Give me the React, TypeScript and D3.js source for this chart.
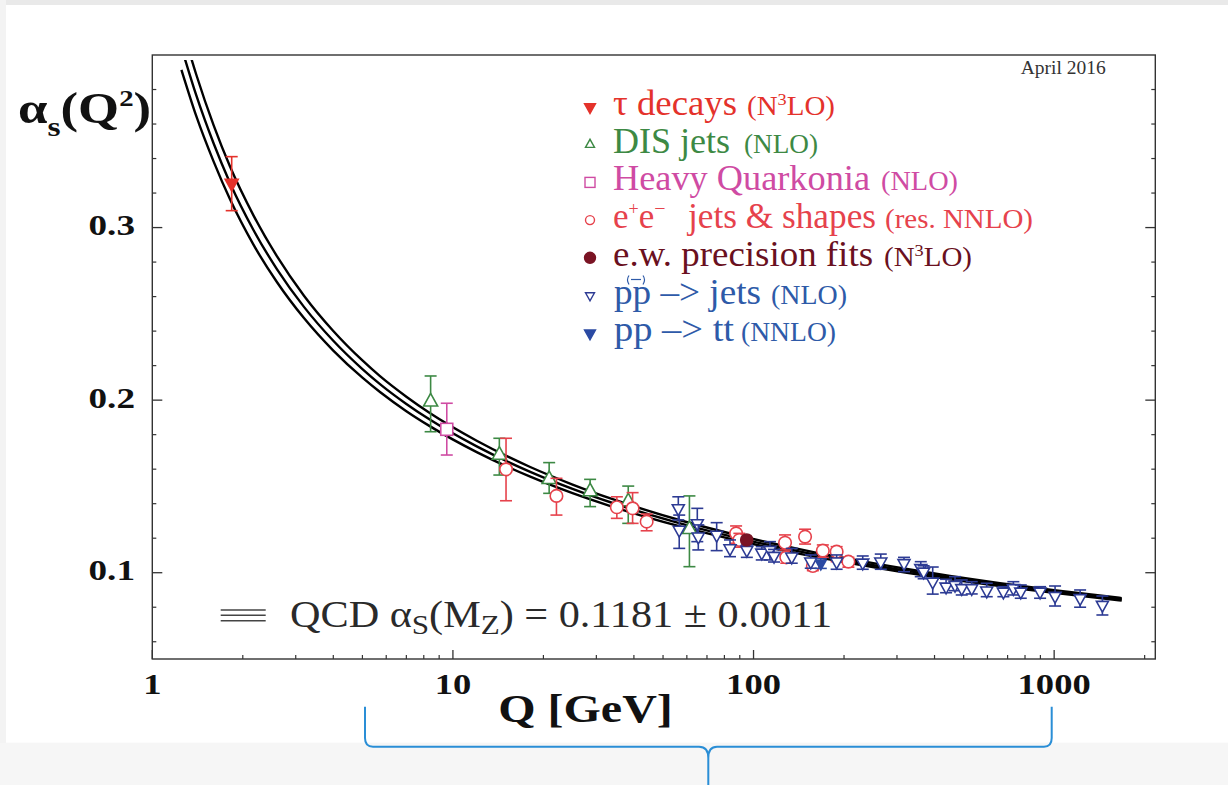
import React from 'react';
import * as d3 from 'd3';

// ---- axes ----
const xMajorTicks = [1, 10, 100, 1000];
const xTickLabels = ['1', '10', '100', '1000'];
const yMajorTicks = [0.1, 0.2, 0.3];
const yTickLabels = ['0.1', '0.2', '0.3'];
const yMinorTicks = [0.06, 0.08, 0.12, 0.14, 0.16, 0.18, 0.22, 0.24, 0.26, 0.28, 0.32, 0.34, 0.36, 0.38];

// ---- QCD running coupling band: Q [GeV], central alpha_s, half-width ----
const bandQ = [1.25, 1.4, 1.6, 1.815, 2.17, 2.6, 3.2, 4, 5, 5.72, 7, 8.4, 12, 18, 25, 34, 57, 95, 150, 209, 320, 450, 660, 1000, 1678];
const bandAlpha = [0.4044, 0.3767, 0.3487, 0.3257, 0.2986, 0.2758, 0.2539, 0.2344, 0.218, 0.2093, 0.1978, 0.1886, 0.1732, 0.1586, 0.1486, 0.1404, 0.1286, 0.1189, 0.1115, 0.1068, 0.1012, 0.0972, 0.0931, 0.0891, 0.0846];
const bandHalfWidth = [0.013, 0.012, 0.0105, 0.0095, 0.0085, 0.0075, 0.0065, 0.0057, 0.005, 0.0046, 0.0042, 0.0038, 0.0033, 0.0028, 0.0025, 0.0022, 0.0018, 0.0015, 0.0013, 0.0012, 0.0011, 0.001, 0.0009, 0.0008, 0.0007];

// ---- measurements: [Q, alpha_s, upper, lower] ----
const tauDecays = [[1.837, 0.3257, 0.3411, 0.3098]];
const disJets = [
  [8.43, 0.199, 0.214, 0.1817],
  [14.27, 0.1682, 0.1779, 0.1566],
  [20.9, 0.1541, 0.1638, 0.146],
  [28.6, 0.147, 0.1541, 0.1383],
  [38.3, 0.1412, 0.1502, 0.1286],
  [61.2, 0.1252, 0.1445, 0.1035],
];
const heavyQuarkonia = [[9.54, 0.1831, 0.1982, 0.1682]];
const eeJetsShapes = [
  [15.02, 0.1599, 0.1779, 0.1417],
  [22.1, 0.1445, 0.1547, 0.1334],
  [35.1, 0.1379, 0.144, 0.1315],
  [39.6, 0.1373, 0.1464, 0.1286],
  [44.1, 0.1296, 0.134, 0.1243],
  [87.5, 0.1228, 0.1271, 0.1171],
  [89.7, 0.119, 0.1228, 0.1148],
  [127.3, 0.1174, 0.1219, 0.1132],
  [128.5, 0.1089, 0.1112, 0.1055],
  [148.4, 0.1209, 0.1252, 0.1166],
  [157.5, 0.1039, 0.1066, 0.1012],
  [170, 0.1128, 0.1161, 0.1089],
  [189, 0.1122, 0.1151, 0.1064],
  [206.8, 0.1064, 0.1089, 0.1032],
];
const ewFits = [[94.9, 0.119, 0.1196, 0.1184]];
const ppJets = [
  [56.2, 0.1373, 0.144, 0.1306],
  [56.6, 0.1248, 0.1334, 0.1141],
  [65.0, 0.1286, 0.1373, 0.118],
  [65.5, 0.1209, 0.1277, 0.1132],
  [75.4, 0.1219, 0.129, 0.1128],
  [83.5, 0.1141, 0.119, 0.1093],
  [95, 0.1132, 0.1161, 0.1089],
  [106.5, 0.1116, 0.1151, 0.1074],
  [113.4, 0.1132, 0.118, 0.1074],
  [117, 0.1097, 0.1135, 0.1062],
  [134, 0.1093, 0.1141, 0.1055],
  [155, 0.1064, 0.1103, 0.1026],
  [189, 0.1064, 0.1103, 0.102],
  [230.8, 0.1058, 0.1097, 0.102],
  [265, 0.1064, 0.1108, 0.102],
  [316.6, 0.1055, 0.1089, 0.1006],
  [360, 0.1026, 0.1064, 0.0977],
  [368, 0.1006, 0.104, 0.0965],
  [394.5, 0.0948, 0.1033, 0.0876],
  [437, 0.0919, 0.0962, 0.0884],
  [468, 0.0929, 0.0977, 0.0896],
  [492.7, 0.091, 0.0958, 0.0871],
  [531.9, 0.091, 0.0948, 0.0877],
  [596.7, 0.0896, 0.0939, 0.0861],
  [677.7, 0.089, 0.0919, 0.0861],
  [731.6, 0.091, 0.0948, 0.0871],
  [774.3, 0.089, 0.0929, 0.0852],
  [897.8, 0.089, 0.0919, 0.0852],
  [1007, 0.0865, 0.0923, 0.0807],
  [1220, 0.0852, 0.09, 0.08],
  [1447, 0.0813, 0.0865, 0.0755],
];
const ppTop = [[167.4, 0.1051, 0.108, 0.1025]];

// ---- legend texts ----
const legendMain = ['τ decays', 'DIS jets', 'Heavy Quarkonia', 'jets & shapes', 'e.w. precision fits', 'pp –> jets', 'pp –> tt'];
const legendOrder = ['(N³LO)', '(NLO)', '(NLO)', '(res. NNLO)', '(N³LO)', '(NLO)', '(NNLO)'];

const SERIF = "'Liberation Serif', 'Times New Roman', 'DejaVu Serif', serif";

const C = {
  tau: '#e4322b',
  dis: '#3d8944',
  hq: '#cf4ba3',
  ee: '#e6424c',
  ew: '#7a1424',
  ewText: '#6a1020',
  pp: '#2d3b94',
  ppText: '#2e5aa8',
  ppTop: '#2b4aa3',
  frame: '#333',
};

type Shape = 'triDown' | 'triUp' | 'square' | 'circle';

function Marker({ shape, x, y, s, color, filled, sw = 1.6 }: { shape: Shape; x: number; y: number; s: number; color: string; filled: boolean; sw?: number }) {
  const fill = filled ? color : '#fff';
  if (shape === 'circle') return <circle cx={x} cy={y} r={s / 2} fill={fill} stroke={color} strokeWidth={sw} />;
  if (shape === 'square') return <rect x={x - s / 2} y={y - s / 2} width={s} height={s} fill={fill} stroke={color} strokeWidth={sw} />;
  const h = s * 0.9;
  const pts = shape === 'triDown'
    ? [[x - s / 2, y - h / 3], [x + s / 2, y - h / 3], [x, y + (2 * h) / 3]]
    : [[x - s / 2, y + h / 3], [x + s / 2, y + h / 3], [x, y - (2 * h) / 3]];
  return <polygon points={pts.map((p) => p.join(',')).join(' ')} fill={fill} stroke={color} strokeWidth={sw} strokeLinejoin="miter" />;
}

// Order label such as "(N³LO)": the superscript digit is set smaller and raised.
function OrderLabel({ x, y, text, color, len }: { x: number; y: number; text: string; color: string; len: number }) {
  const m = text.match(/^(.*?)([³])(.*)$/);
  const st = { fontFamily: SERIF };
  if (!m) {
    return <text x={x} y={y} fontSize={27} fill={color} style={st} textLength={len} lengthAdjust="spacingAndGlyphs">{text}</text>;
  }
  return (
    <text x={x} y={y} fontSize={27} fill={color} style={st} textLength={len} lengthAdjust="spacingAndGlyphs">
      <tspan>{m[1]}</tspan>
      <tspan fontSize={17} dy={-10}>3</tspan>
      <tspan dy={10}>{m[3]}</tspan>
    </text>
  );
}

export default function App() {
  const W = 1228;
  const H = 785;
  const left = 152.3;
  const right = 1155.3;
  const top = 55;
  const bottom = 659;

  const x = d3.scaleLog().domain([1, 2170]).range([left, right]);
  const y = d3.scaleLinear().domain([0.05, 0.4]).range([bottom, top]);

  const xMinor: number[] = [];
  for (const d of xMajorTicks) for (let k = 2; k <= 9; k++) if (d * k <= 2170) xMinor.push(d * k);

  const idx = d3.range(bandQ.length);
  const bandLine = (k: number) =>
    d3.line<number>()
      .x((i) => x(bandQ[i]))
      .y((i) => y(bandAlpha[i] + k * bandHalfWidth[i]))
      .curve(d3.curveMonotoneX)(idx) as string;

  const series: { data: number[][]; shape: Shape; color: string; filled: boolean; s: number }[] = [
    { data: disJets, shape: 'triUp', color: C.dis, filled: false, s: 14 },
    { data: heavyQuarkonia, shape: 'square', color: C.hq, filled: false, s: 12 },
    { data: eeJetsShapes, shape: 'circle', color: C.ee, filled: false, s: 12.5 },
    { data: ppJets, shape: 'triDown', color: C.pp, filled: false, s: 12 },
    { data: ppTop, shape: 'triDown', color: C.ppTop, filled: true, s: 10 },
    { data: ewFits, shape: 'circle', color: C.ew, filled: true, s: 12 },
    { data: tauDecays, shape: 'triDown', color: C.tau, filled: true, s: 13 },
  ];

  const legendRows: { shape: Shape; color: string; text: string; filled: boolean; s: number; mainX: number; mainLen: number; orderX: number; orderLen: number }[] = [
    { shape: 'triDown', color: C.tau, text: C.tau, filled: true, s: 11, mainX: 613, mainLen: 124, orderX: 747, orderLen: 88 },
    { shape: 'triUp', color: C.dis, text: C.dis, filled: false, s: 9, mainX: 613, mainLen: 117, orderX: 744, orderLen: 74 },
    { shape: 'square', color: C.hq, text: C.hq, filled: false, s: 10, mainX: 613, mainLen: 257, orderX: 881, orderLen: 77 },
    { shape: 'circle', color: C.ee, text: C.ee, filled: false, s: 9, mainX: 688, mainLen: 188, orderX: 885, orderLen: 148 },
    { shape: 'circle', color: C.ew, text: C.ewText, filled: true, s: 11, mainX: 613, mainLen: 260, orderX: 884, orderLen: 88 },
    { shape: 'triDown', color: C.pp, text: C.ppText, filled: false, s: 9, mainX: 614, mainLen: 147, orderX: 771, orderLen: 76 },
    { shape: 'triDown', color: C.ppTop, text: C.ppText, filled: true, s: 11, mainX: 614, mainLen: 120, orderX: 741, orderLen: 95 },
  ];
  const legendBase = (i: number) => 115 + i * 37.7;
  const st = { fontFamily: SERIF };

  return (
    <svg width={W} height={H} style={{ position: 'absolute', left: 0, top: 0, fontFamily: SERIF }}>
      <defs>
        <clipPath id="plotClip">
          <rect x={left} y={top + 5} width={right - left} height={bottom - top - 5} />
        </clipPath>
      </defs>
      {/* page */}
      <rect x={0} y={0} width={W} height={H} fill="#fff" />
      <rect x={0} y={0} width={W} height={5} fill="#e9e9e9" />
      <rect x={0} y={0} width={6} height={H} fill="#f3f3f3" />
      <rect x={0} y={742.7} width={W} height={H - 742.7} fill="#f6f6f6" />

      {/* frame */}
      <rect x={left} y={top} width={right - left} height={bottom - top} fill="none" stroke={C.frame} strokeWidth={1.4} />

      {/* x ticks */}
      {xMajorTicks.map((t) => (
        <line key={'xM' + t} x1={x(t)} x2={x(t)} y1={bottom} y2={bottom - 9} stroke={C.frame} strokeWidth={1.3} />
      ))}
      {xMinor.map((t) => (
        <line key={'xm' + t} x1={x(t)} x2={x(t)} y1={bottom} y2={bottom - 4} stroke={C.frame} strokeWidth={1.2} />
      ))}
      {xMajorTicks.map((t, i) => (
        <text key={'xl' + t} transform={`translate(${x(t)},693.5) scale(1.22,1)`} textAnchor="middle" fontSize={30} fontWeight="bold" fill="#111" style={st}>
          {xTickLabels[i]}
        </text>
      ))}

      {/* y ticks, left and right */}
      {yMajorTicks.map((t) => (
        <g key={'yM' + t}>
          <line x1={left} x2={left + 10} y1={y(t)} y2={y(t)} stroke={C.frame} strokeWidth={1.3} />
          <line x1={right} x2={right - 10} y1={y(t)} y2={y(t)} stroke={C.frame} strokeWidth={1.3} />
        </g>
      ))}
      {yMinorTicks.map((t) => (
        <g key={'ym' + t}>
          <line x1={left} x2={left + 4} y1={y(t)} y2={y(t)} stroke={C.frame} strokeWidth={1.2} />
          <line x1={right} x2={right - 4} y1={y(t)} y2={y(t)} stroke={C.frame} strokeWidth={1.2} />
        </g>
      ))}
      {yMajorTicks.map((t, i) => (
        <text key={'yl' + t} transform={`translate(135,${y(t) + 7.5}) scale(1.24,1)`} textAnchor="end" fontSize={30} fontWeight="bold" fill="#111" style={st}>
          {yTickLabels[i]}
        </text>
      ))}

      {/* axis titles */}
      <text transform="translate(18,123) scale(1.2,1)" fontSize={44} fontWeight="bold" fill="#111" style={st}>
        <tspan>α</tspan>
        <tspan fontSize={28} dy={13}>s</tspan>
        <tspan dy={-13}>(Q</tspan>
        <tspan fontSize={24} dy={-17}>2</tspan>
        <tspan dy={17}>)</tspan>
      </text>
      <text transform="translate(585.5,722) scale(1.2,1)" textAnchor="middle" fontSize={40} fontWeight="bold" fill="#111" style={st}>
        Q [GeV]
      </text>
      <text x={1020.7} y={74.3} fontSize={19.5} fill="#333" style={st}>April 2016</text>

      {/* QCD band: three lines */}
      <g clipPath="url(#plotClip)">
        {[-1, 0, 1].map((k) => (
          <path key={'band' + k} d={bandLine(k)} fill="none" stroke="#000" strokeWidth={2.4} />
        ))}
      </g>

      {/* measurements */}
      {series.map((sr, si) => (
        <g key={'s' + si}>
          {sr.data.map((d, j) => {
            const px = x(d[0]);
            const cap = 6;
            return (
              <g key={j}>
                <line x1={px} x2={px} y1={y(d[2])} y2={y(d[3])} stroke={sr.color} strokeWidth={1.6} />
                <line x1={px - cap} x2={px + cap} y1={y(d[2])} y2={y(d[2])} stroke={sr.color} strokeWidth={1.6} />
                <line x1={px - cap} x2={px + cap} y1={y(d[3])} y2={y(d[3])} stroke={sr.color} strokeWidth={1.6} />
                <Marker shape={sr.shape} x={px} y={y(d[1])} s={sr.s} color={sr.color} filled={sr.filled} />
              </g>
            );
          })}
        </g>
      ))}

      {/* legend */}
      {legendRows.map((r, i) => (
        <g key={'leg' + i}>
          <Marker shape={r.shape} x={590} y={legendBase(i) - 8} s={r.s} color={r.color} filled={r.filled} sw={1.4} />
          <text x={r.mainX} y={legendBase(i)} fontSize={35} fill={r.text} style={st} textLength={r.mainLen} lengthAdjust="spacingAndGlyphs">
            {legendMain[i]}
          </text>
          <OrderLabel x={r.orderX} y={legendBase(i)} text={legendOrder[i]} color={r.text} len={r.orderLen} />
        </g>
      ))}
      {/* e+e- prefix */}
      <text x={613} y={legendBase(3)} fontSize={35} fill={C.ee} style={st}>
        <tspan>e</tspan><tspan fontSize={18} dy={-13}>+</tspan><tspan dy={13}>e</tspan><tspan fontSize={20} dy={-13}>−</tspan>
      </text>
      {/* (–) mark over the second p */}
      <g stroke={C.ppText} fill="none" strokeWidth={1.2}>
        <path d={`M629,${legendBase(5) - 28} q-3,4 0,9`} />
        <path d={`M643,${legendBase(5) - 28} q3,4 0,9`} />
        <line x1={631} x2={641} y1={legendBase(5) - 24} y2={legendBase(5) - 24} />
      </g>

      {/* QCD legend */}
      <g stroke="#444" strokeWidth={1.4}>
        {[610, 615.3, 620.7].map((yy) => (
          <line key={yy} x1={220.7} x2={265.7} y1={yy} y2={yy} />
        ))}
      </g>
      <text x={290} y={627} fontSize={38} fill="#2a2a2a" style={st} textLength={542} lengthAdjust="spacingAndGlyphs">
        QCD α<tspan fontSize={28} dy={7}>S</tspan><tspan dy={-7}>(M</tspan><tspan fontSize={28} dy={7}>Z</tspan><tspan dy={-7}>) = 0.1181 ± 0.0011</tspan>
      </text>

      {/* brace under the axis */}
      <path
        d="M365,706.7 L365,738 Q365,746.7 373,746.7 L699,746.7 Q708.3,746.7 708.3,758 L708.3,785 M708.3,758 Q708.3,746.7 717,746.7 L1044,746.7 Q1051.7,746.7 1051.7,738 L1051.7,706.7"
        fill="none"
        stroke="#2a8ed6"
        strokeWidth={2}
      />
    </svg>
  );
}
